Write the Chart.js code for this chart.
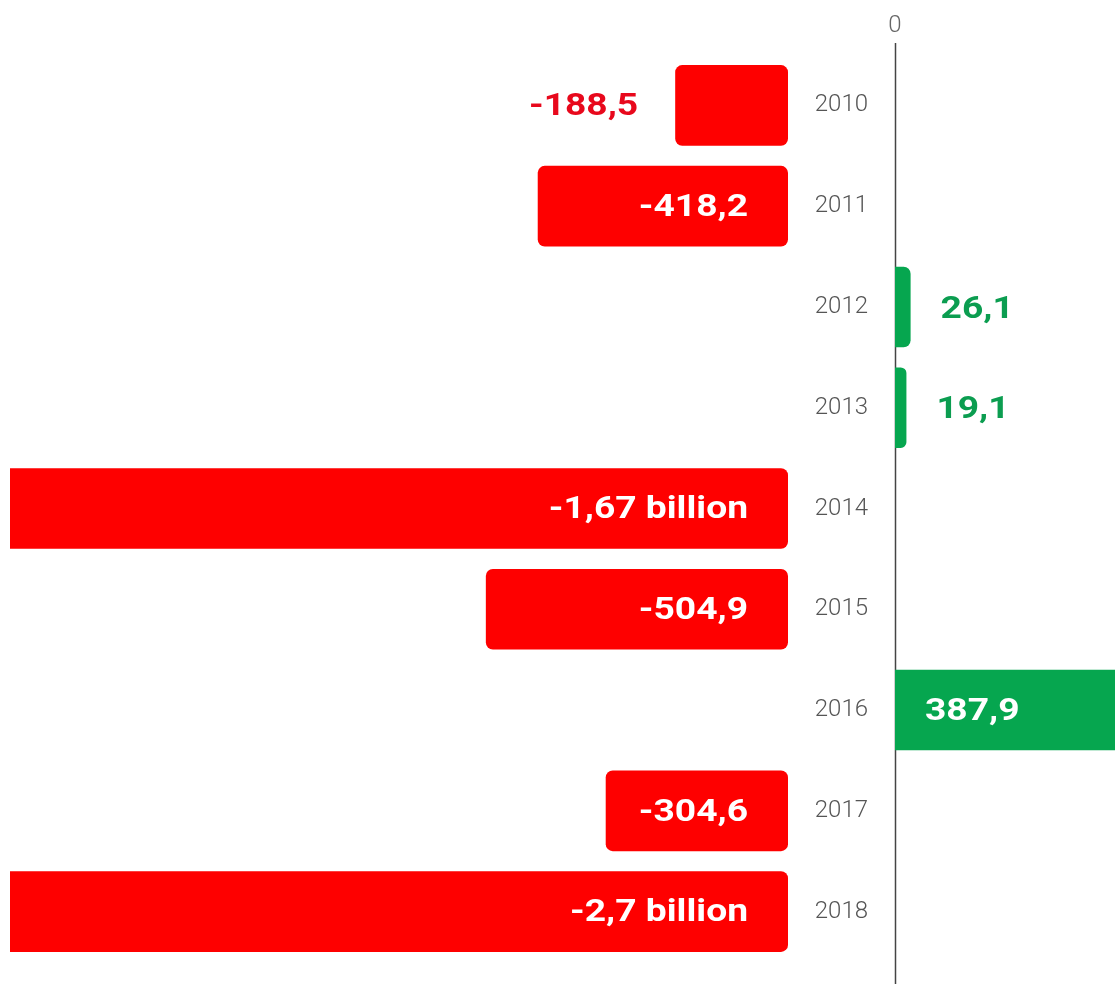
<!DOCTYPE html>
<html>
<head>
<meta charset="utf-8">
<title>Net result 2010–2018</title>
<script src="https://cdn.jsdelivr.net/npm/chart.js@4.4.1/dist/chart.umd.min.js"></script>
<style>
  html, body { margin: 0; padding: 0; background: #fff; }
  body { width: 1115px; height: 984px; position: relative; overflow: hidden; }
  #lossChart { position: absolute; left: 0; top: 0; }
  #gainChart { position: absolute; left: 790px; top: 0; }
</style>
</head>
<body>
<canvas id="lossChart" width="800" height="984"></canvas>
<canvas id="gainChart" width="325" height="984"></canvas>
<script>
// Years and net result per year (millions)
const years = ['2010', '2011', '2012', '2013', '2014', '2015', '2016', '2017', '2018'];
const results = [-188.5, -418.2, 26.1, 19.1, -1670, -504.9, 387.9, -304.6, -2700];
const zeroTicks = [0];

// visible axis ranges (millions) for the loss side and the profit side
const lossMin = -1300;
const gainMax = 368;

const RED = '#fe0000';
const GREEN = '#06a64f';
const RED_TEXT = '#e8081c';
const GREEN_TEXT = '#0b9d50';

const labelFont = 'bold 31px Roboto';
const labelStretch = 1.2;

function formatResult(v) {
  if (Math.abs(v) >= 1000) {
    return String(v / 1000).replace('.', ',') + ' billion';
  }
  return v.toFixed(1).replace('.', ',');
}

function drawText(ctx, text, x, y, align, color) {
  ctx.save();
  ctx.translate(x, y);
  ctx.scale(labelStretch, 1);
  ctx.font = labelFont;
  ctx.textAlign = align;
  ctx.textBaseline = 'middle';
  ctx.fillStyle = color;
  ctx.fillText(text, 0, 0);
  ctx.restore();
}

function textWidth(ctx, text) {
  ctx.save();
  ctx.font = labelFont;
  const w = ctx.measureText(text).width * labelStretch;
  ctx.restore();
  return w;
}

// value labels: inside the bar when it fits, otherwise next to it
const valueLabels = {
  id: 'valueLabels',
  afterDatasetsDraw(chart, args, opts) {
    const ctx = chart.ctx;
    const area = chart.chartArea;
    const meta = chart.getDatasetMeta(0);
    meta.data.forEach((bar, i) => {
      const v = results[i];
      const text = formatResult(v);
      const w = textWidth(ctx, text);
      const y = bar.y + 2;
      if (opts.side === 'loss' && v < 0) {
        const left = Math.max(bar.x, area.left);
        const len = bar.base - left;
        if (w + 50 <= len) {
          drawText(ctx, text, bar.base - 40, y, 'right', '#fff');
        } else {
          drawText(ctx, text, left - 37, y, 'right', RED_TEXT);
        }
      }
      if (opts.side === 'gain' && v > 0) {
        const right = Math.min(bar.x, area.right);
        const len = right - bar.base;
        if (w + 40 <= len) {
          drawText(ctx, text, bar.base + 30, y, 'left', '#fff');
        } else {
          drawText(ctx, text, right + 30, y + 1, 'left', GREEN_TEXT);
        }
      }
    });
  }
};

// vertical zero line running from below the "0" tick to the bottom edge
const zeroLine = {
  id: 'zeroLine',
  beforeDatasetsDraw(chart) {
    const x = Math.round(chart.scales.x.getPixelForValue(0)) + 0.5;
    const ctx = chart.ctx;
    ctx.save();
    ctx.strokeStyle = '#444';
    ctx.lineWidth = 1.5;
    ctx.beginPath();
    ctx.moveTo(x, 43);
    ctx.lineTo(x, chart.height);
    ctx.stroke();
    ctx.restore();
  }
};

function barDataset() {
  return {
    data: results,
    backgroundColor: results.map(v => (v < 0 ? RED : GREEN)),
    borderRadius: 7,
    // losses are rounded on every corner, profits sit flush on the axis
    borderSkipped: ctx => (results[ctx.dataIndex] < 0 ? false : 'start'),
    barPercentage: 0.8,
    categoryPercentage: 1,
    clip: 0
  };
}

// left side: losses
new Chart(document.getElementById('lossChart'), {
  type: 'bar',
  data: { labels: years, datasets: [barDataset()] },
  options: {
    indexAxis: 'y',
    responsive: false,
    animation: false,
    layout: { padding: { left: 10, right: 12, top: 55, bottom: 22 } },
    scales: {
      x: { display: false, min: lossMin, max: 0 },
      y: { display: false }
    },
    plugins: {
      legend: { display: false },
      tooltip: { enabled: false },
      valueLabels: { side: 'loss' }
    }
  },
  plugins: [valueLabels]
});

// right side: year labels, zero axis and profits
new Chart(document.getElementById('gainChart'), {
  type: 'bar',
  data: { labels: years, datasets: [barDataset()] },
  options: {
    indexAxis: 'y',
    responsive: false,
    animation: false,
    layout: { padding: { left: 0, right: 0, top: 0, bottom: 22 } },
    scales: {
      x: {
        position: 'top',
        min: 0,
        max: gainMax,
        afterBuildTicks: axis => { axis.ticks = zeroTicks.map(v => ({ value: v })); },
        afterFit: axis => {
          axis.height = 55;
          axis.paddingLeft = 0;
          axis.paddingRight = 0;
        },
        grid: { display: false, drawTicks: false },
        border: { display: false },
        ticks: {
          color: '#666',
          padding: 15,
          font: { family: 'Roboto', size: 24, weight: '300' }
        }
      },
      y: {
        position: 'left',
        afterFit: axis => {
          axis.width = 105;
          axis.paddingTop = 0;
          axis.paddingBottom = 0;
        },
        grid: { display: false, drawTicks: false },
        border: { display: false },
        ticks: {
          color: '#555',
          padding: 27,
          font: { family: 'Roboto', size: 24, weight: '300' }
        }
      }
    },
    plugins: {
      legend: { display: false },
      tooltip: { enabled: false },
      valueLabels: { side: 'gain' }
    }
  },
  plugins: [zeroLine, valueLabels]
});
</script>
</body>
</html>
